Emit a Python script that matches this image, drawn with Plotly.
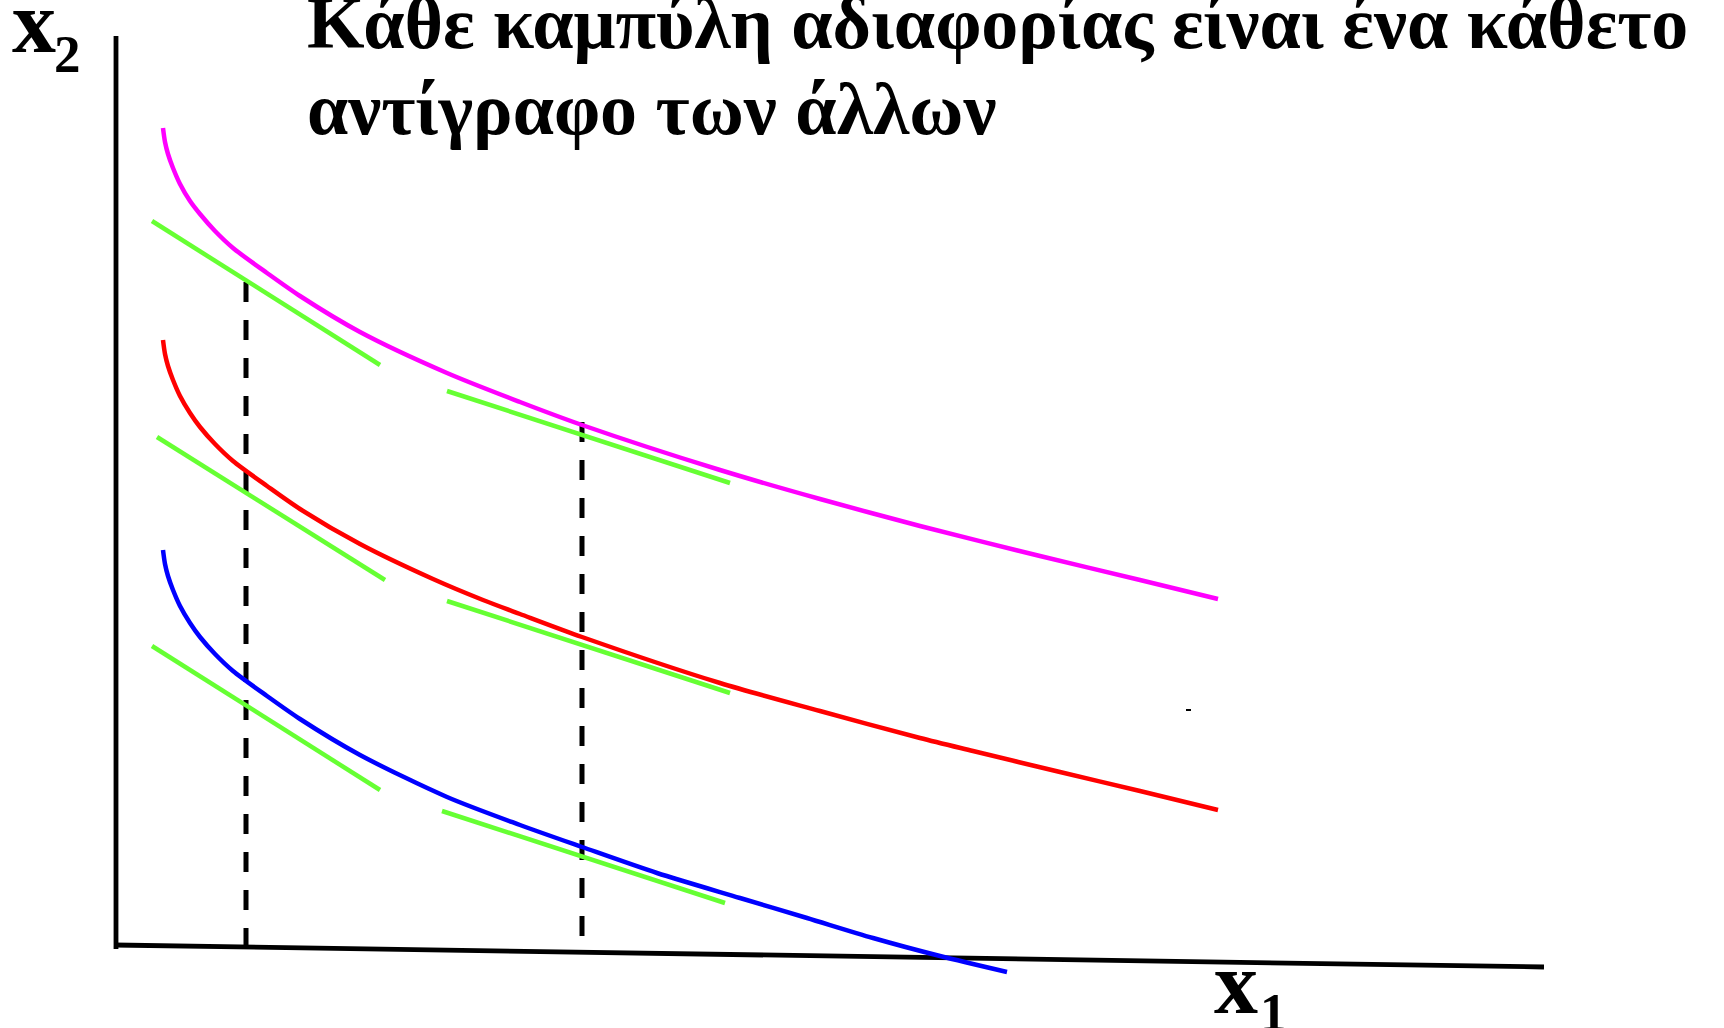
import plotly.graph_objects as go

# ---- data (diagram units: horizontal position, vertical position; y grows downward) ----
magenta_x = [163, 165, 168, 173, 180, 190, 200, 215, 233, 267, 300, 360, 447, 520, 582, 720, 820, 920, 1040, 1140, 1218]
magenta_y = [128, 142, 154, 168, 184, 201, 214, 231, 248, 273, 296, 332, 373, 402, 425, 470, 499, 526, 556, 580, 599]

red_x = [163, 165, 168, 173, 180, 190, 200, 215, 233, 267, 300, 360, 433, 483, 520, 582, 720, 820, 920, 973, 1060, 1140, 1218]
red_y = [340, 354, 366, 380, 396, 413, 427, 444, 461, 486, 509, 544, 579, 600, 614, 637, 683, 711, 738, 751, 772, 791, 810]

blue_x = [163, 165, 168, 173, 180, 190, 200, 215, 233, 267, 300, 360, 447, 520, 582, 657, 740, 807, 873, 940, 1007]
blue_y = [550, 564, 576, 590, 606, 623, 637, 654, 671, 696, 719, 755, 797, 825, 847, 873, 898, 918, 938, 956, 972]

# tangent segments (start, end)
tangent_x = [[152, 380], [447, 730], [157, 385], [447, 730], [152, 380], [442, 725]]
tangent_y = [[221, 365], [391, 483], [437, 580], [601, 693], [646, 790], [811, 903]]

# vertical dashed guides
guide_x = [[246, 246], [582, 582]]
guide_y = [[282, 947], [422, 937]]

# axes
vaxis_x = [116, 116]
vaxis_y = [36, 949]
haxis_x = [114, 1544]
haxis_y = [945, 967]

speck_x = [1186, 1191]
speck_y = [710, 710]

title_lines = ["Κάθε καμπύλη αδιαφορίας είναι ένα κάθετο", "αντίγραφο των άλλων"]

W, H = 1724, 1028
GREEN = "#66FF33"

fig = go.Figure()

# axes
fig.add_trace(go.Scatter(x=vaxis_x, y=vaxis_y, mode="lines",
                         line=dict(color="black", width=4.8), hoverinfo="skip"))
fig.add_trace(go.Scatter(x=haxis_x, y=haxis_y, mode="lines",
                         line=dict(color="black", width=4.8), hoverinfo="skip"))

# dashed guides
for gx, gy in zip(guide_x, guide_y):
    fig.add_trace(go.Scatter(x=gx, y=gy, mode="lines",
                             line=dict(color="black", width=5, dash="20px,18px"),
                             hoverinfo="skip"))

# tangents
for tx, ty in zip(tangent_x, tangent_y):
    fig.add_trace(go.Scatter(x=tx, y=ty, mode="lines",
                             line=dict(color=GREEN, width=4.5), hoverinfo="skip"))

# indifference curves
for cx, cy, col in [(magenta_x, magenta_y, "#FF00FF"),
                    (red_x, red_y, "#FF0000"),
                    (blue_x, blue_y, "#0000FF")]:
    fig.add_trace(go.Scatter(x=cx, y=cy, mode="lines",
                             line=dict(color=col, width=4.5, shape="spline", smoothing=0.8),
                             hoverinfo="skip"))

fig.add_trace(go.Scatter(x=speck_x, y=speck_y, mode="lines",
                         line=dict(color="black", width=2), hoverinfo="skip"))

FONT = "Liberation Serif, Times New Roman, serif"

annotations = [
    dict(x=305, y=66, xref="x", yref="y", xanchor="left", yanchor="bottom",
         text="<b>" + title_lines[0] + "</b>", align="left", showarrow=False,
         font=dict(family=FONT, size=74, color="black")),
    dict(x=305, y=152, xref="x", yref="y", xanchor="left", yanchor="bottom",
         text="<b>" + title_lines[1] + "</b>", align="left", showarrow=False,
         font=dict(family=FONT, size=74, color="black")),
    dict(x=10, y=73, xref="x", yref="y", xanchor="left", yanchor="bottom",
         text="<b>x</b>", showarrow=False, font=dict(family=FONT, size=88, color="black")),
    dict(x=52, y=85, xref="x", yref="y", xanchor="left", yanchor="bottom",
         text="<b>2</b>", showarrow=False, font=dict(family=FONT, size=53, color="black")),
    dict(x=1212, y=933, xref="x", yref="y", xanchor="left", yanchor="top",
         text="<b>x</b>", showarrow=False, font=dict(family=FONT, size=88, color="black")),
    dict(x=1258, y=981, xref="x", yref="y", xanchor="left", yanchor="top",
         text="<b>1</b>", showarrow=False, font=dict(family=FONT, size=53, color="black")),
]

fig.update_layout(
    width=W, height=H,
    margin=dict(l=0, r=0, t=0, b=0),
    paper_bgcolor="white", plot_bgcolor="white",
    showlegend=False,
    xaxis=dict(range=[0, W], visible=False, fixedrange=True),
    yaxis=dict(range=[H, 0], visible=False, fixedrange=True),
    annotations=annotations,
)

fig.write_html("out.html",
               config={"displayModeBar": False},
               post_script="document.body.style.margin='0';document.body.style.overflow='hidden';")
